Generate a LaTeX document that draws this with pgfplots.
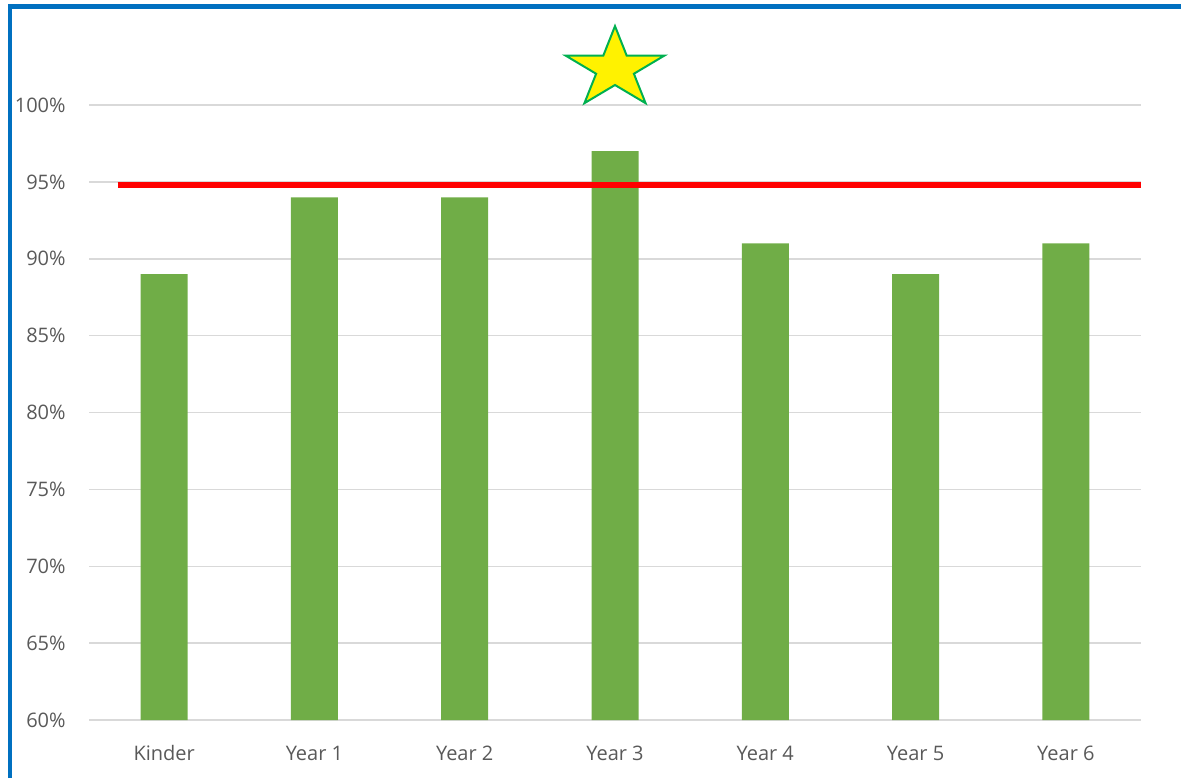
\documentclass[border=0pt]{standalone}
\usepackage{fontspec}
\setmainfont{Open Sans}
\usepackage{pgfplots}
\pgfplotsset{compat=1.18}
\definecolor{bargreen}{HTML}{70AD47}
\definecolor{gridgray}{HTML}{D9D9D9}
\definecolor{txtgray}{HTML}{595959}
\definecolor{frameblue}{HTML}{0070C0}
\definecolor{stargreen}{HTML}{00B050}
\pgfdeclareplotmark{xstar}{%
  \pgfpathmoveto{\pgfqpoint{0pt}{21.3pt}}%
  \pgfpathlineto{\pgfqpoint{5.84pt}{6.58pt}}%
  \pgfpathlineto{\pgfqpoint{24.73pt}{6.58pt}}%
  \pgfpathlineto{\pgfqpoint{9.44pt}{-2.51pt}}%
  \pgfpathlineto{\pgfqpoint{15.29pt}{-17.23pt}}%
  \pgfpathlineto{\pgfqpoint{0pt}{-8.14pt}}%
  \pgfpathlineto{\pgfqpoint{-15.29pt}{-17.23pt}}%
  \pgfpathlineto{\pgfqpoint{-9.44pt}{-2.51pt}}%
  \pgfpathlineto{\pgfqpoint{-24.73pt}{6.58pt}}%
  \pgfpathlineto{\pgfqpoint{-5.84pt}{6.58pt}}%
  \pgfpathclose
  \pgfusepathqfillstroke}
\begin{document}
\begin{tikzpicture}
\path[use as bounding box] (0,0) rectangle (590.5pt,389pt);
\begin{axis}[
  at={(44.5pt,29pt)}, anchor=south west,
  scale only axis, width=526pt, height=353.625pt,
  xmin=-0.5, xmax=6.5, ymin=60, ymax=106,
  axis line style={draw=none},
  ymajorgrids, grid style={gridgray, line width=0.75pt},
  major tick length=0pt,
  xtick={0,1,2,3,4,5,6},
  xticklabels={Kinder,Year 1,Year 2,Year 3,Year 4,Year 5,Year 6},
  ytick={60,65,70,75,80,85,90,95,100},
  yticklabels={60\%,65\%,70\%,75\%,80\%,85\%,90\%,95\%,100\%},
  ticklabel style={font=\fontsize{10}{12}\selectfont, text=txtgray, inner sep=0pt},
  xticklabel style={anchor=base, yshift=-20pt},
  yticklabel style={anchor=east, xshift=-11.5pt},
  clip=true,
]
\addplot[ybar, bar width=23.5pt, bar shift=0pt, fill=bargreen, draw=none]
  coordinates {(0,89) (1,94) (2,94) (3,97) (4,91) (5,89) (6,91)};
\addplot[red, line width=3pt, mark=none] coordinates {(-0.31,94.8) (6.5,94.8)};
\addplot[only marks, mark=xstar, mark options={fill=yellow, draw=stargreen, line width=1pt}]
  coordinates {(3,102.36)};
\end{axis}
\draw[frameblue, line width=2pt] (5pt,0) -- (5pt,385.75pt);
\draw[frameblue, line width=2.5pt] (4pt,385.75pt) -- (590.5pt,385.75pt);
\end{tikzpicture}
\end{document}
